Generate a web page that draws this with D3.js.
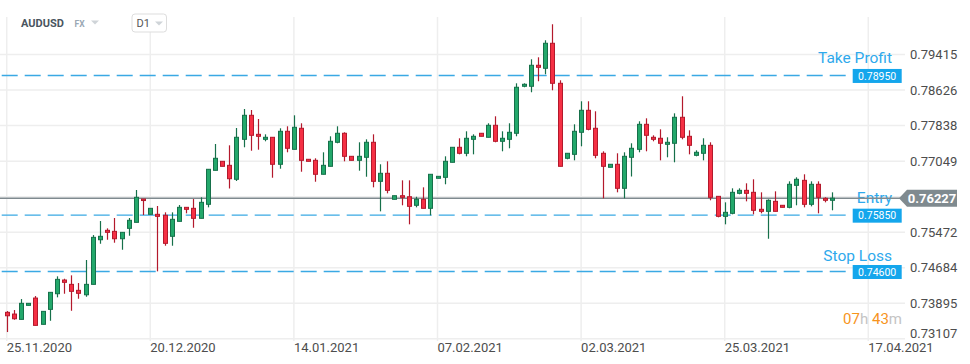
<!DOCTYPE html>
<html><head><meta charset="utf-8">
<script src="https://cdn.jsdelivr.net/npm/d3@7"></script>
<style>html,body{margin:0;padding:0;background:#fff;}svg{display:block;font-family:Roboto,"Open Sans",sans-serif;}</style>
</head><body>
<svg id="c" width="970" height="364"></svg>
<script>
const symbol = "AUDUSD";
const timeframe = "D1";
const dateLabels = ["25.11.2020","20.12.2020","14.01.2021","07.02.2021","02.03.2021","25.03.2021","17.04.2021"];
const dateLabelIndex = [0,20,40,60,80,100,120];
const priceTicks = [0.79415,0.78626,0.77838,0.77049,0.76261,0.75472,0.74684,0.73895,0.73107];
const opens = [0.73694,0.73656,0.73538,0.73849,0.74011,0.73428,0.73760,0.74107,0.74411,0.74315,
0.74182,0.74084,0.74315,0.75305,0.75514,0.75491,0.75327,0.75558,0.75691,0.76208,
0.75869,0.75869,0.75847,0.75381,0.75713,0.76024,0.76002,0.75780,0.76091,0.76845,
0.77045,0.76956,0.76646,0.77533,0.78066,0.77644,0.77533,0.77578,0.76979,0.77711,
0.77311,0.77778,0.77090,0.77067,0.76757,0.76934,0.77467,0.77667,0.77156,0.77067,
0.77134,0.77467,0.76601,0.76779,0.76202,0.76282,0.76259,0.76069,0.76202,0.76002,
0.76668,0.76690,0.77023,0.77356,0.77223,0.77533,0.77667,0.77578,0.77844,0.77489,
0.77533,0.77667,0.78710,0.78710,0.79176,0.79109,0.79664,0.78776,0.77112,0.77200,
0.77689,0.78177,0.77778,0.77223,0.76912,0.76979,0.76446,0.77134,0.77311,0.77866,
0.77578,0.77556,0.77422,0.77445,0.78022,0.77600,0.77178,0.77223,0.77400,0.76268,
0.75824,0.75891,0.76335,0.76401,0.76357,0.75980,0.75935,0.76157,0.76069,0.76024,
0.76512,0.76623,0.76091,0.76535,0.76224,0.76180];
const highs = [0.73723,0.73745,0.73989,0.73894,0.74056,0.73716,0.74138,0.74493,0.74440,0.74515,
0.74344,0.74855,0.75409,0.75720,0.75558,0.75787,0.75469,0.75787,0.76408,0.76208,
0.76002,0.76053,0.75913,0.75913,0.76075,0.76024,0.76208,0.76246,0.76868,0.77429,
0.77045,0.77400,0.77784,0.78206,0.78184,0.77984,0.77644,0.77578,0.77778,0.77822,
0.78066,0.77889,0.77090,0.77112,0.77245,0.77600,0.77822,0.77689,0.77156,0.77467,
0.77533,0.77644,0.76979,0.77045,0.76282,0.76623,0.76623,0.76259,0.76468,0.76757,
0.76712,0.77156,0.77356,0.77556,0.77711,0.77644,0.77667,0.77889,0.78044,0.77711,
0.77889,0.78776,0.78776,0.79309,0.79353,0.79731,0.80086,0.78843,0.77223,0.77866,
0.78377,0.78377,0.78155,0.77267,0.76979,0.77223,0.77245,0.77445,0.77933,0.77999,
0.77622,0.77755,0.77578,0.78110,0.78488,0.77733,0.77289,0.77556,0.77467,0.76268,
0.76135,0.76446,0.76446,0.76557,0.76646,0.76357,0.76202,0.76379,0.76069,0.76601,
0.76690,0.76757,0.76601,0.76601,0.76246,0.76357];
const lows = [0.73257,0.73530,0.73538,0.73849,0.73405,0.73428,0.73507,0.74027,0.74107,0.73729,
0.73996,0.74040,0.74315,0.75216,0.75305,0.75239,0.75083,0.75394,0.75691,0.75853,
0.75869,0.74604,0.75172,0.75172,0.75713,0.75891,0.75571,0.75780,0.76024,0.76845,
0.76934,0.76442,0.76608,0.77356,0.77280,0.77303,0.77489,0.76681,0.76881,0.77245,
0.77311,0.76814,0.77045,0.76592,0.76757,0.76934,0.77445,0.77045,0.77067,0.76837,
0.76703,0.76468,0.75935,0.76335,0.76202,0.76069,0.75647,0.76024,0.76002,0.75847,
0.76668,0.76535,0.77023,0.77200,0.77156,0.77200,0.77600,0.77578,0.77467,0.77267,
0.77334,0.77600,0.78688,0.78577,0.78821,0.78976,0.78621,0.76934,0.77090,0.77067,
0.77378,0.77733,0.77112,0.76224,0.76912,0.76357,0.76224,0.76708,0.77245,0.77267,
0.77489,0.77067,0.77134,0.77023,0.77533,0.77200,0.77156,0.77067,0.76180,0.75802,
0.75647,0.75869,0.76313,0.76157,0.75869,0.75891,0.75327,0.75935,0.76024,0.76002,
0.76069,0.76024,0.76046,0.75891,0.76135,0.75958];
const closes = [0.73618,0.73552,0.73894,0.73894,0.73405,0.73716,0.74138,0.74426,0.74360,0.74160,
0.74116,0.74315,0.75358,0.75381,0.75469,0.75327,0.75469,0.75736,0.76246,0.76180,
0.76002,0.75824,0.75225,0.75758,0.76024,0.75980,0.75780,0.76135,0.76868,0.77112,
0.76934,0.76659,0.77578,0.78066,0.77622,0.77600,0.77578,0.76979,0.77711,0.77334,
0.77800,0.77067,0.77045,0.76757,0.76956,0.77489,0.77667,0.77156,0.77067,0.77156,
0.77467,0.76601,0.76779,0.76401,0.76282,0.76246,0.76046,0.76202,0.76002,0.76757,
0.76712,0.77045,0.77356,0.77223,0.77556,0.77600,0.77600,0.77844,0.77489,0.77556,
0.77689,0.78688,0.78754,0.79176,0.79131,0.79664,0.78776,0.76934,0.77223,0.77711,
0.78177,0.77755,0.77178,0.76934,0.76979,0.76446,0.77156,0.77334,0.77866,0.77622,
0.77533,0.77445,0.77467,0.78022,0.77578,0.77400,0.77245,0.77400,0.76246,0.75824,
0.75913,0.76357,0.76401,0.76335,0.75958,0.75935,0.76180,0.75935,0.76024,0.76535,
0.76646,0.76091,0.76535,0.76246,0.76180,0.76227];
const levelNames = ["Take Profit","Entry","Stop Loss"];
const levelPrices = [0.78950,0.75850,0.74600];
const currentPrice = 0.76227;
const timerParts = [["07","#f7941d"],["h ","#c4c4c4"],["43","#f7941d"],["m","#c4c4c4"]];

const svg = d3.select("#c");
const x = d3.scaleLinear().domain([0,120]).range([6.7,868.3]);
const y = d3.scaleLinear().domain([0.73107,0.79415]).range([338.8,54.5]);
const gridCol = "#eeeeee";

// horizontal grid
svg.append("g").selectAll("line").data(priceTicks).join("line")
  .attr("x1",0).attr("x2",905).attr("y1",d=>y(d)).attr("y2",d=>y(d))
  .attr("stroke",gridCol).attr("stroke-width",1.5);
// vertical grid
svg.append("g").selectAll("line").data(dateLabelIndex).join("line")
  .attr("x1",d=>x(d)).attr("x2",d=>x(d)).attr("y1",17).attr("y2",341)
  .attr("stroke",gridCol).attr("stroke-width",1.5);

// x labels
svg.append("g").selectAll("text").data(dateLabelIndex).join("text")
  .attr("x",d=>x(d)).attr("y",351.5).attr("font-size",13).attr("fill","#4d4d4d")
  .text((d,i)=>dateLabels[i]);

// y labels (the one hidden behind the current-price tag is not drawn)
svg.append("g").selectAll("text")
  .data(priceTicks.filter(d=>Math.abs(y(d)-y(currentPrice))>10)).join("text")
  .attr("x",910).attr("y",d=>Math.min(y(d),333)).attr("dy","0.35em")
  .attr("font-size",13).attr("fill","#4d4d4d").text(d=>d.toFixed(5));

// header
const hdr = svg.append("g");
hdr.append("rect").attr("x",132).attr("y",14).attr("width",34.5).attr("height",18).attr("rx",3)
  .attr("fill","#fff").attr("stroke","#dddddd");
hdr.append("text").attr("x",21).attr("y",27.3).attr("font-size",11).attr("font-weight","bold")
  .attr("fill","#4a5560").text(symbol);
hdr.append("text").attr("x",74.5).attr("y",27.3).attr("font-size",8.5).attr("font-weight","bold")
  .attr("fill","#9aa8b4").text("FX");
hdr.append("path").attr("d","M91,20.5 L99,20.5 L95,24.5 Z").attr("fill","#cfd4d8");
hdr.append("text").attr("x",136.5).attr("y",27.3).attr("font-size",11).attr("fill","#555").text(timeframe);
hdr.append("path").attr("d","M155,21.5 L163,21.5 L159,25.5 Z").attr("fill","#cfd4d8");

// level dashed lines
const lvl = svg.append("g");
lvl.selectAll("line").data(levelPrices).join("line")
  .attr("x1",1.7).attr("x2",852).attr("y1",d=>y(d)).attr("y2",d=>y(d))
  .attr("stroke","#3aa9e4").attr("stroke-width",1.4).attr("stroke-dasharray","16,7");

// current price line
svg.append("line").attr("x1",0).attr("x2",900).attr("y1",y(currentPrice)).attr("y2",y(currentPrice))
  .attr("stroke","#7f8a8f").attr("stroke-width",1.4);

// candles
const idx = d3.range(opens.length);
const cg = svg.append("g");
const up = i => closes[i] >= opens[i];
const fillC = i => up(i) ? "#23a86b" : "#f53044";
const strokeC = i => up(i) ? "#16704a" : "#b3192c";
cg.selectAll("line").data(idx).join("line")
  .attr("x1",i=>Math.round(x(i))+0.5).attr("x2",i=>Math.round(x(i))+0.5)
  .attr("y1",i=>y(highs[i])).attr("y2",i=>y(lows[i]))
  .attr("stroke",strokeC).attr("stroke-width",1.2);
cg.selectAll("rect").data(idx).join("rect")
  .attr("x",i=>Math.round(x(i))-1.5).attr("width",4)
  .attr("y",i=>y(Math.max(opens[i],closes[i])))
  .attr("height",i=>Math.max(1.5,Math.abs(y(opens[i])-y(closes[i]))))
  .attr("fill",fillC).attr("stroke",strokeC).attr("stroke-width",1);

// level labels and price boxes
lvl.selectAll("rect").data(levelPrices).join("rect")
  .attr("x",852.7).attr("width",49).attr("y",d=>y(d)-6.5).attr("height",14)
  .attr("fill","#14a6ec");
lvl.selectAll("text.p").data(levelPrices).join("text").attr("class","p")
  .attr("x",877.2).attr("y",d=>y(d)+0.6).attr("dy","0.35em").attr("text-anchor","middle")
  .attr("font-size",10.5).attr("fill","#fff").text(d=>d.toFixed(5));
const nameY = [63,202.5,260.7];
lvl.selectAll("text.n").data(levelNames).join("text").attr("class","n")
  .attr("x",892).attr("y",(d,i)=>nameY[i]).attr("text-anchor","end")
  .attr("font-size",15.5).attr("fill","#2ea9ec").text(d=>d);

// current price label
const cy = y(currentPrice);
svg.append("path").attr("d",`M899,${cy} L907,${cy-8.5} L957,${cy-8.5} L957,${cy+8.5} L907,${cy+8.5} Z`)
  .attr("fill","#7f8a8f");
svg.append("text").attr("x",932).attr("y",cy).attr("dy","0.36em").attr("text-anchor","middle")
  .attr("font-size",13).attr("font-weight","bold").attr("fill","#fff").text(currentPrice.toFixed(5));

// timer
const tt = svg.append("text").attr("x",902).attr("y",324).attr("text-anchor","end").attr("font-size",15);
tt.selectAll("tspan").data(timerParts).join("tspan").attr("fill",d=>d[1]).text(d=>d[0]);
</script>
</body></html>
